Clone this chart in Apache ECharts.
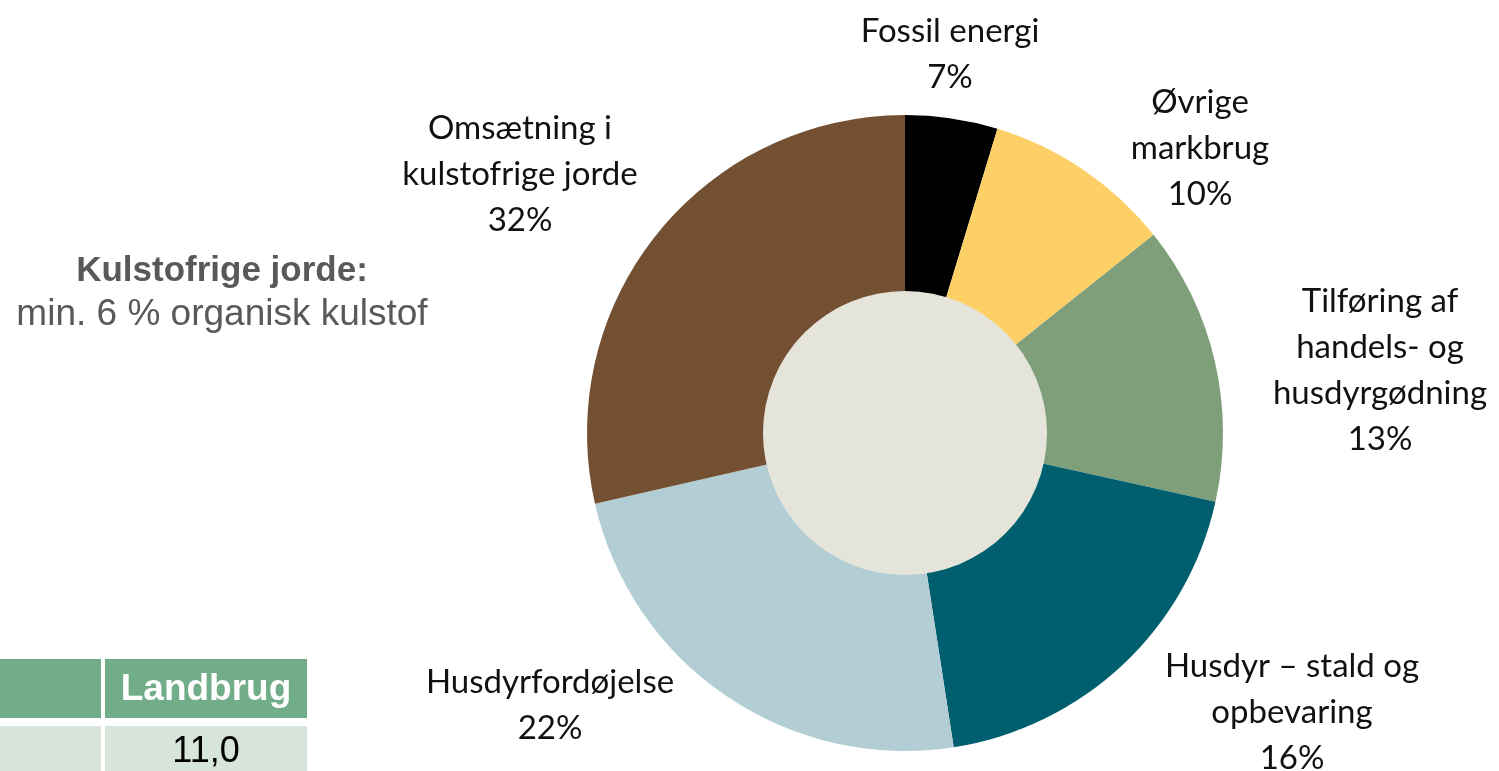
<!DOCTYPE html>
<html>
<head>
<meta charset="utf-8">
<script src="https://cdn.jsdelivr.net/npm/echarts@6/dist/echarts.min.js"></script>
<style>
  html, body { margin: 0; padding: 0; background: #fff; }
  #chart { width: 1499px; height: 771px; }
</style>
</head>
<body>
<div id="chart"></div>
<script>
// slice names (as printed, with line breaks)
const categories = [
  'Fossil energi',
  'Øvrige\nmarkbrug',
  'Tilføring af\nhandels- og\nhusdyrgødning',
  'Husdyr – stald og\nopbevaring',
  'Husdyrfordøjelse',
  'Omsætning i\nkulstofrige jorde'
];
// slice sizes as drawn in the picture (share of the circle)
const sliceValues = [4.7, 9.6, 14.2, 19.1, 23.9, 28.6];
// percentages printed in the labels
const shareLabels = ['7%', '10%', '13%', '16%', '22%', '32%'];
const colors = ['#000000', '#fdd067', '#7f9f7a', '#005f6e', '#b2cdd4', '#745033'];

// where each label block sits (centre of the text block)
const labelSpots = [[950, 54], [1200, 148], [1380, 370], [1292, 712], [550, 705], [520, 174]];

const tableHeader = ['', 'Landbrug'];
const tableRow = ['', '11,0'];

const chart = echarts.init(document.getElementById('chart'));
const center = [905, 433];
const sideFont = 'Liberation Sans';

function txt(text, x, y, size, weight, fill) {
  return {
    type: 'text', x: x, y: y,
    style: {
      text: text, align: 'center', verticalAlign: 'middle',
      fontSize: size, fontWeight: weight, fontFamily: sideFont, fill: fill
    }
  };
}

const option = {
  animation: false,
  textStyle: { fontFamily: 'Lato' },
  graphic: [
    txt('Kulstofrige jorde:', 222, 271, 35, 'bold', '#595959'),
    txt('min. 6 % organisk kulstof', 222, 315, 37, 'normal', '#595959'),
    // table
    { type: 'rect', shape: { x: 0, y: 659, width: 101, height: 59 }, style: { fill: '#72ad8a' } },
    { type: 'rect', shape: { x: 105, y: 659, width: 202, height: 59 }, style: { fill: '#72ad8a' } },
    { type: 'rect', shape: { x: 0, y: 726, width: 101, height: 50 }, style: { fill: '#d6e4da' } },
    { type: 'rect', shape: { x: 105, y: 726, width: 202, height: 50 }, style: { fill: '#d6e4da' } },
    txt(tableHeader[1], 206, 690, 37, 'bold', '#ffffff'),
    txt(tableRow[1], 206, 752, 36, 'normal', '#000000')
  ],
  series: [
    {
      type: 'pie',
      center: center,
      radius: [0, 318],
      startAngle: 90,
      clockwise: true,
      silent: true,
      avoidLabelOverlap: false,
      itemStyle: { borderWidth: 0 },
      label: {
        show: true,
        position: 'outside',
        formatter: p => p.name + '\n' + shareLabels[p.dataIndex],
        color: '#111',
        fontSize: 33,
        lineHeight: 46,
        align: 'center'
      },
      labelLine: { show: false },
      labelLayout: p => ({
        x: labelSpots[p.dataIndex][0],
        y: labelSpots[p.dataIndex][1],
        align: 'center',
        verticalAlign: 'middle'
      }),
      data: categories.map((name, i) => ({
        name, value: sliceValues[i], itemStyle: { color: colors[i] }
      }))
    },
    {
      type: 'pie',
      center: center,
      radius: [0, 142],
      silent: true,
      label: { show: false },
      labelLine: { show: false },
      itemStyle: { color: '#e5e4da' },
      data: [{ name: 'inner', value: 1 }]
    }
  ]
};
chart.setOption(option);
</script>
</body>
</html>
